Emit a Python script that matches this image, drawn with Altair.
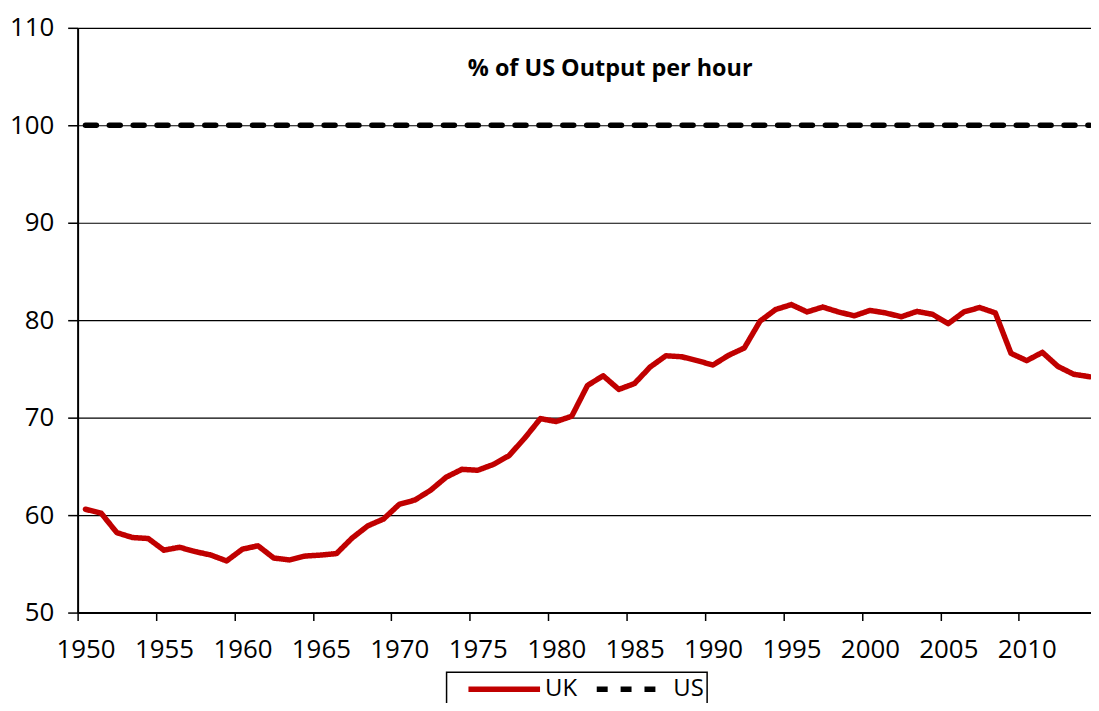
import altair as alt
import pandas as pd

years = list(range(1950, 2015))
uk_values = [60.6, 60.2, 58.2, 57.7, 57.6, 56.4, 56.7, 56.25, 55.9, 55.3,
             56.5, 56.85, 55.6, 55.4, 55.8, 55.9, 56.05, 57.65, 58.9, 59.6,
             61.1, 61.55, 62.55, 63.9, 64.7, 64.6, 65.2, 66.1, 67.9, 69.9,
             69.6, 70.15, 73.3, 74.3, 72.9, 73.5, 75.2, 76.35, 76.25, 75.85,
             75.4, 76.4, 77.15, 79.9, 81.1, 81.6, 80.85, 81.35, 80.85, 80.45,
             81.0, 80.75, 80.35, 80.9, 80.6, 79.65, 80.85, 81.3, 80.75, 76.6,
             75.85, 76.7, 75.25, 74.45, 74.2]
us_values = [100, 100, 100, 100, 100, 100, 100, 100, 100, 100, 100, 100, 100,
             100, 100, 100, 100, 100, 100, 100, 100, 100, 100, 100, 100, 100,
             100, 100, 100, 100, 100, 100, 100, 100, 100, 100, 100, 100, 100,
             100, 100, 100, 100, 100, 100, 100, 100, 100, 100, 100, 100, 100,
             100, 100, 100, 100, 100, 100, 100, 100, 100, 100, 100, 100, 100]
series_names = ["UK", "US"]
series_colors = ["#C00000", "#000000"]
series_dashes = [[1, 0], [11, 13]]
x_tick_years = [1950, 1955, 1960, 1965, 1970, 1975, 1980, 1985, 1990,
                1995, 2000, 2005, 2010]
y_ticks = [50, 60, 70, 80, 90, 100, 110]
title_text = "% of US Output per hour"

rows = []
for name, vals in zip(series_names, [uk_values, us_values]):
    for yr, v in zip(years, vals):
        rows.append({"series": name, "year": yr, "value": v})
df = pd.DataFrame(rows)

FONT = "Open Sans"

legend = alt.Legend(title=None, orient="none", legendX=371, legendY=648,
                    direction="horizontal")

chart = alt.Chart(df).transform_calculate(
    xpos="datum.year + 0.5"
).mark_line(strokeCap="round", strokeJoin="round", strokeWidth=5.5, clip=True).encode(
    x=alt.X("xpos:Q",
            scale=alt.Scale(domain=[1950, 2014.6], nice=False, zero=False),
            axis=alt.Axis(values=x_tick_years, format="d", title=None, grid=False,
                          tickSize=8, tickColor="black", tickWidth=1.5,
                          labelPadding=16, labelOffset=8, labelFlush=False,
                          labelOverlap=False,
                          domainColor="black", domainWidth=2,
                          labelFont=FONT, labelFontSize=26, labelColor="black")),
    y=alt.Y("value:Q",
            scale=alt.Scale(domain=[50, 110], nice=False, zero=False),
            axis=alt.Axis(values=y_ticks, title=None, grid=True,
                          gridColor="black", gridWidth=1.2,
                          tickSize=10, tickColor="black", tickWidth=1.5,
                          labelPadding=14, labelOverlap=False,
                          domainColor="black", domainWidth=2,
                          labelFont=FONT, labelFontSize=26, labelColor="black")),
    color=alt.Color("series:N",
                    scale=alt.Scale(domain=series_names, range=series_colors),
                    legend=legend),
    strokeDash=alt.StrokeDash("series:N",
                              scale=alt.Scale(domain=series_names, range=series_dashes),
                              legend=legend),
).properties(
    width=1019,
    height=588,
    autosize=alt.AutoSizeParams(type="none"),
    padding={"left": 70, "top": 18, "right": 0, "bottom": 89},
    title=alt.TitleParams(title_text, font=FONT, fontSize=23.5, fontWeight="bold",
                          color="black", anchor="middle", dx=26, dy=85,
                          baseline="alphabetic", offset=0),
).configure_view(
    stroke=None
).configure_legend(
    strokeColor="black",
    strokeWidth=1.5,
    padding=3,
    clipHeight=28,
    symbolType="stroke",
    symbolSize=5184,
    symbolStrokeWidth=5.5,
    symbolOffset=16,
    labelOffset=2,
    columnPadding=-19,
    labelFont=FONT,
    labelFontSize=24,
    labelColor="black",
)

chart.save("out.html", embed_options={"renderer": "svg", "actions": False})
